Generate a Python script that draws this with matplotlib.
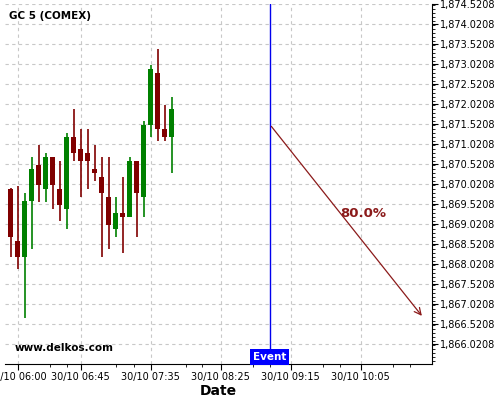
import numpy as np
import matplotlib
matplotlib.use("Agg")
import matplotlib.pyplot as plt
import matplotlib.dates as mdates
from matplotlib.ticker import FixedLocator, FuncFormatter, MultipleLocator
from datetime import datetime, timedelta

# 5-minute candles, 30/10
times = ["05:55", "06:00", "06:05", "06:10", "06:15", "06:20", "06:25", "06:30",
         "06:35", "06:40", "06:45", "06:50", "06:55", "07:00", "07:05", "07:10",
         "07:15", "07:20", "07:25", "07:30", "07:35", "07:40", "07:45", "07:50"]
opens = [1869.904, 1868.604, 1868.213, 1869.604, 1870.504, 1869.904, 1870.704, 1869.904,
         1869.404, 1871.204, 1870.904, 1870.804, 1870.404, 1870.204, 1869.704, 1868.913,
         1869.304, 1869.213, 1870.604, 1869.713, 1871.504, 1872.804, 1871.404, 1871.213]
highs = [1869.928, 1869.988, 1869.796, 1870.696, 1870.996, 1870.796, 1870.704, 1870.596,
         1871.296, 1871.900, 1871.396, 1871.396, 1870.996, 1870.696, 1870.696, 1869.696,
         1870.196, 1870.696, 1870.604, 1871.604, 1872.996, 1873.396, 1871.996, 1872.196]
lows = [1868.213, 1867.896, 1866.671, 1868.396, 1869.588, 1869.588, 1869.396, 1869.096,
        1868.896, 1870.596, 1869.696, 1869.896, 1870.096, 1868.196, 1868.396, 1868.696,
        1868.296, 1869.196, 1868.696, 1869.196, 1871.196, 1871.096, 1871.096, 1870.296]
closes = [1868.713, 1868.213, 1869.604, 1870.404, 1870.004, 1870.704, 1870.004, 1869.504,
          1871.204, 1870.813, 1870.613, 1870.613, 1870.313, 1869.813, 1869.013, 1869.304,
          1869.213, 1870.604, 1869.813, 1871.504, 1872.904, 1871.404, 1871.213, 1871.904]

event_time = "09:00"
arrow_start = ("09:00", 1871.5208)
arrow_end = ("10:50", 1866.678)
arrow_label = "80.0%"
label_pos = ("10:07", 1869.30)

xtick_times = ["06:00", "06:45", "07:35", "08:25", "09:15", "10:05"]
xminor_times = ["06:23", "06:35", "07:10", "07:23", "08:00", "08:12",
                "08:48", "09:00", "09:38", "09:50", "10:28", "10:40"]
y_first_tick = 1866.0208
y_step = 0.5
y_limits = (1865.53, 1874.523)
x_limits = ("05:51", "10:56")

day = datetime(2020, 10, 30)


def to_num(s):
    h, m = s.split(":")
    return mdates.date2num(day + timedelta(hours=int(h), minutes=int(m)))


red = "#800000"
green = "#008000"

fig = plt.figure(figsize=(5, 4), dpi=100)
ax = fig.add_axes([0.01, 0.09, 0.854, 0.90])

width = 3.6 / (24 * 60)
for t, o, h, l, c in zip(times, opens, highs, lows, closes):
    x = to_num(t)
    col = green if c >= o else red
    ax.vlines(x, l, h, color=col, linewidth=1.2, zorder=3)
    ax.bar(x, abs(c - o), width=width, bottom=min(o, c), color=col, zorder=4,
           linewidth=0)

# event line and label
ex = to_num(event_time)
ax.axvline(ex, color="#0000ee", linewidth=1, zorder=5)
ax.text(ex, y_limits[0] + 0.05, "Event", color="white", fontsize=7.5,
        fontweight="bold", ha="center", va="bottom", zorder=6,
        bbox=dict(boxstyle="square,pad=0.25", facecolor="#0000ff",
                  edgecolor="none"))

# forecast arrow
ax.annotate("", xy=(to_num(arrow_end[0]), arrow_end[1]),
            xytext=(to_num(arrow_start[0]), arrow_start[1]),
            arrowprops=dict(arrowstyle="->", color="#8b1a1a", linewidth=0.9,
                            mutation_scale=12), zorder=6)
ax.text(to_num(label_pos[0]), label_pos[1], arrow_label, color="#8b1a1a",
        fontsize=9.5, fontweight="bold", ha="center", va="center", zorder=6)

ax.set_xlim(to_num(x_limits[0]), to_num(x_limits[1]))
ax.set_ylim(*y_limits)

ax.xaxis.set_major_locator(FixedLocator([to_num(t) for t in xtick_times]))
ax.xaxis.set_major_formatter(mdates.DateFormatter("%d/%m %H:%M"))
ax.xaxis.set_minor_locator(FixedLocator([to_num(t) for t in xminor_times]))

yticks = [y_first_tick + y_step * k for k in range(18)]
ax.yaxis.set_major_locator(FixedLocator(yticks))
ax.yaxis.set_minor_locator(MultipleLocator(0.1))
ax.yaxis.set_major_formatter(FuncFormatter(lambda v, p: "{:,.4f}".format(v)))
ax.yaxis.tick_right()

ax.tick_params(axis="both", which="major", labelsize=7, length=4, width=0.8, pad=2)
ax.tick_params(axis="both", which="minor", length=2, width=0.6)

for s in ["left", "top"]:
    ax.spines[s].set_visible(False)
ax.spines["right"].set_color("black")
ax.spines["bottom"].set_color("black")

ax.grid(True, which="major", linestyle=(0, (3, 3)), color="#c8c8c8", linewidth=0.8)
ax.set_axisbelow(True)

ax.set_xlabel("Date", fontsize=10, fontweight="bold", labelpad=1)
ax.text(0.01, 0.98, "GC 5 (COMEX)", transform=ax.transAxes, fontsize=7.5,
        fontweight="bold", ha="left", va="top")
ax.text(0.023, 0.03, "www.delkos.com", transform=ax.transAxes, fontsize=7.5,
        fontweight="bold", ha="left", va="bottom")

fig.savefig("out.png", dpi=100)
